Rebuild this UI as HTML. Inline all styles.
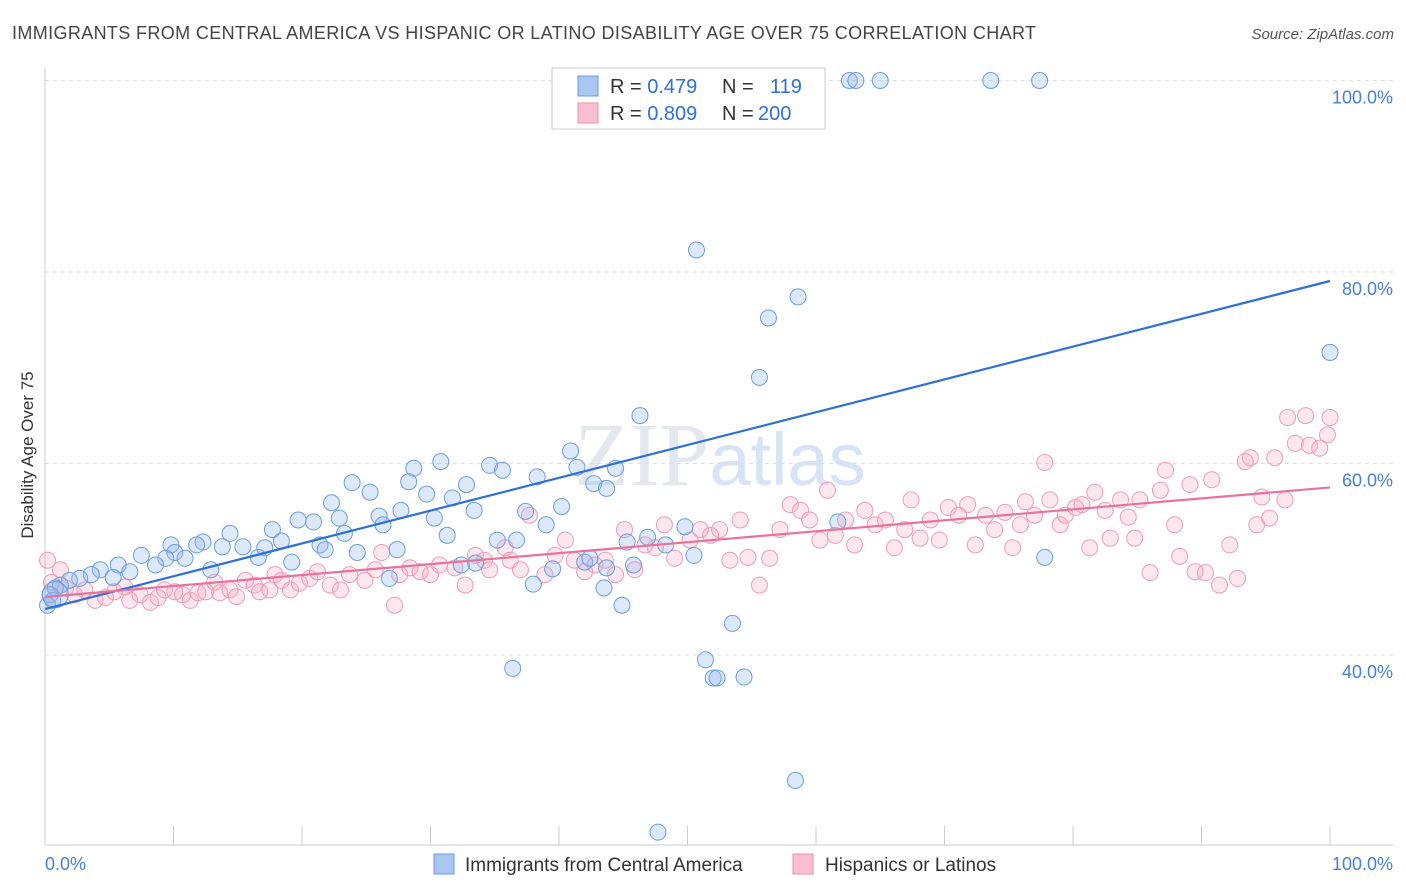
<!DOCTYPE html>
<html><head><meta charset="utf-8"><style>
body{margin:0;background:#fff;font-family:"Liberation Sans",sans-serif;}
#wrap{position:relative;width:1406px;height:892px;overflow:hidden;}
</style></head><body>
<div id="wrap">
<svg id="chart" width="1406" height="892" xmlns="http://www.w3.org/2000/svg">
<text x="12" y="39" font-size="18" fill="#444" textLength="1024" lengthAdjust="spacing">IMMIGRANTS FROM CENTRAL AMERICA VS HISPANIC OR LATINO DISABILITY AGE OVER 75 CORRELATION CHART</text>
<text x="1394" y="39" font-size="15" fill="#555" font-style="italic" text-anchor="end">Source: ZipAtlas.com</text>
<text x="720" y="485" font-size="90" fill="#e3e8ef" text-anchor="middle" font-family="Liberation Serif,serif">ZIP<tspan fill="#d8e4f5" font-family="Liberation Sans,sans-serif" font-size="74">atlas</tspan></text>
<text transform="translate(33,455) rotate(-90)" font-size="17" fill="#333" text-anchor="middle">Disability Age Over 75</text>
<g id="grid"></g><g id="pts"></g><g id="lines"></g>
<g>
<rect x="552" y="68" width="273" height="61" fill="#fff" stroke="#ccc"/>
<rect x="578" y="76" width="20" height="20" fill="#a9c7f0" stroke="#6a9ee0"/>
<rect x="578" y="103" width="20" height="20" fill="#f7bfd0" stroke="#ec90ac"/>
<text x="610" y="93" font-size="20" fill="#333">R = <tspan fill="#2f6fd8">0.479</tspan><tspan x="722">N = </tspan><tspan x="770" fill="#2f6fd8">119</tspan></text>
<text x="610" y="120" font-size="20" fill="#333">R = <tspan fill="#2f6fd8">0.809</tspan><tspan x="722">N = </tspan><tspan x="758" fill="#2f6fd8">200</tspan></text>
</g>
<g>
<rect x="434" y="854" width="20" height="20" fill="#a9c7f0" stroke="#6a9ee0"/>
<text x="465" y="871" font-size="19" fill="#333">Immigrants from Central America</text>
<rect x="793" y="854" width="20" height="20" fill="#f7bfd0" stroke="#ec90ac"/>
<text x="825" y="871" font-size="19" fill="#333">Hispanics or Latinos</text>
</g>
</svg>
<script>
const blueX=[59.7,62.6,63.1,65,73.6,77.4,50.7,58.6,56.3,55.6,100,46.3,40.9,41.4,44.4,42.7,43.7,30.8,28.7,34.6,35.6,32.8,28.3,29.7,23.9,25.3,22.3,27.7,31.7,38.3,40.2,37.4,39,30.3,26,22.9,19.7,20.9,17.7,14.4,23.3,26.3,31.3,33.4,35.2,36.7,18.4,15.4,17.1,21.4,21.8,19.2,16.6,13.8,12.3,11.8,9.8,10.1,10.9,9.4,7.5,8.6,5.7,6.6,4.3,5.3,3.6,2.7,1.9,1.2,0.8,0.4,0.6,0.2,12.9,24.3,27.4,26.8,33.5,32.4,39.5,38,42,42.4,43.7,45.8,46.9,45.3,49.8,50.5,48.3,43.5,44.9,53.5,51.4,52,52.3,54.4,36.4,58.4,47.7,61.7,77.8,0.8];
const blueY=[100,100,100,100,100,100,82.3,77.4,75.2,69.0,71.6,65.0,61.3,59.6,59.5,57.9,57.4,60.2,59.5,59.8,59.3,57.8,58.1,56.8,58.0,57.0,55.9,55.1,56.4,58.6,55.5,55.0,53.6,54.3,54.5,54.3,54.1,53.9,53.1,52.7,52.7,53.6,52.5,55.1,52.0,52.0,51.9,51.3,51.2,51.5,51.0,49.7,50.2,51.3,51.8,51.5,51.5,50.7,50.1,50.1,50.4,49.4,49.4,48.7,48.9,48.1,48.4,48.0,47.8,47.3,47.0,46.3,45.7,45.2,48.9,50.7,51.0,48.0,49.6,49.4,49.0,47.4,49.7,50.1,49.1,49.4,52.3,51.8,53.4,50.4,51.5,47.0,45.2,43.3,39.5,37.6,37.6,37.7,38.6,26.9,21.5,53.9,50.2,46.3];
const pinkX=[0.2,1.2,0.5,1.6,2.3,3.1,3.9,4.7,5.4,6.2,6.6,7.4,8.2,8.8,9.3,10.1,10.7,11.3,11.9,12.5,13.2,13.6,14.4,14.9,15.6,16.3,16.7,17.5,17.9,18.4,19.1,19.8,20.6,21.2,22.2,23.0,23.7,24.9,25.7,26.2,27.2,27.6,28.4,29.2,30.0,30.7,31.9,32.7,33.5,34.2,34.6,35.8,36.2,37.0,37.7,38.9,39.7,40.5,41.2,42.0,42.8,43.6,44.4,45.1,45.9,46.7,47.5,48.2,49.0,50.2,51.0,51.8,52.5,53.3,54.1,54.7,55.6,56.4,57.2,58.0,58.8,59.5,60.3,60.9,61.5,62.3,63.0,63.8,64.6,65.4,66.1,66.9,67.4,68.1,68.9,69.6,70.3,71.1,71.8,72.4,73.2,73.9,74.7,75.3,75.9,76.3,77.0,77.8,78.2,79.0,79.4,80.2,80.7,81.3,81.7,82.5,82.9,83.7,84.3,84.8,85.2,86.0,86.8,87.2,87.9,88.3,89.1,89.5,90.3,90.8,91.4,92.2,92.8,93.4,93.8,94.3,94.7,95.3,95.7,96.7,97.3,98.1,98.4,99.2,99.8,100,96.5];
const pinkY=[49.9,48.9,47.6,47.0,46.3,46.8,45.7,46.0,46.6,47.1,45.7,46.3,45.5,46.0,46.8,46.6,46.3,45.7,46.5,46.6,47.6,46.5,46.8,46.1,47.8,47.3,46.6,46.8,48.4,47.8,46.8,47.5,48.0,48.7,47.3,46.8,48.4,47.8,48.9,50.7,45.2,48.4,49.1,48.7,48.4,49.4,49.1,47.3,50.4,49.9,48.9,51.2,49.9,48.9,54.6,48.4,50.4,52.0,49.9,48.7,49.4,49.9,48.4,53.1,48.9,51.5,51.2,53.6,50.1,52.0,53.1,52.5,53.1,49.9,54.1,50.2,47.3,50.1,53.1,55.7,55.1,54.1,52.0,57.2,52.5,54.1,51.5,55.1,53.6,54.1,51.2,53.1,56.2,52.2,54.1,52.0,55.4,54.6,55.7,51.5,54.6,53.1,54.9,51.2,53.6,56.0,54.6,60.1,56.2,53.6,54.6,55.4,55.7,51.2,57.0,55.1,52.2,56.2,54.4,52.2,56.2,48.6,57.2,59.3,53.6,50.3,57.8,48.7,48.6,58.3,47.3,51.5,48.0,60.2,60.6,53.6,56.5,54.3,60.6,64.8,62.1,65.0,61.9,61.6,63.0,64.8,56.2];
const blueLine=[44.8,79.06];
const pinkLine=[46.06,57.5];
const yTicks=[40,60,80,100];
const yTickLabels=["40.0%","60.0%","80.0%","100.0%"];
const xTicks=[0,10,20,30,40,50,60,70,80,90,100];

const NS="http://www.w3.org/2000/svg";
const sx=v=>45+v*12.85;
const sy=v=>655-(v-40)*9.575;
function mk(tag,attrs,parent){const e=document.createElementNS(NS,tag);for(const k in attrs)e.setAttribute(k,attrs[k]);parent.appendChild(e);return e;}
const grid=document.getElementById('grid');
yTicks.forEach((t,i)=>{
  const l=mk('line',{x1:45,x2:1393,y1:sy(t),y2:sy(t),stroke:'#ddd','stroke-dasharray':'4,4'},grid);
  
  
  const tx=mk('text',{x:1393,y:sy(t)+23,'font-size':18,fill:'#4a7fd6','text-anchor':'end'},grid);
  tx.textContent=yTickLabels[i];
  
  
});
const ax=mk('line',{x1:45,x2:1393,y1:845,y2:845,stroke:'#ccc'},grid);


const ay=mk('line',{x1:45,x2:45,y1:68,y2:845,stroke:'#ccc'},grid);


xTicks.forEach(t=>{
  const l=mk('line',{x1:sx(t),x2:sx(t),y1:826,y2:845,stroke:'#ccc'},grid);
  
  
});
const x0=mk('text',{x:45,y:870,'font-size':18,fill:'#4a7fd6'},grid);x0.textContent='0.0%';


const x1=mk('text',{x:1393,y:870,'font-size':18,fill:'#4a7fd6','text-anchor':'end'},grid);x1.textContent='100.0%';


const pts=document.getElementById('pts');
pinkX.forEach((x,i)=>{
  const c=mk('circle',{cx:sx(x),cy:sy(pinkY[i]),r:8,fill:'rgba(245,170,195,0.28)',stroke:'#ef9cb6','stroke-width':1},pts);
  
  
});
blueX.forEach((x,i)=>{
  const big=i===blueX.length-1;
  const c=mk('circle',{cx:sx(x),cy:sy(blueY[i]),r:big?13:8,fill:'rgba(150,185,235,0.32)',stroke:'#6b9ee2','stroke-width':1},pts);
  
  
});
const lines=document.getElementById('lines');
const bl=mk('line',{x1:sx(0),y1:sy(blueLine[0]),x2:sx(100),y2:sy(blueLine[1]),stroke:'#2f6fd8','stroke-width':2.2},lines);


const pl=mk('line',{x1:sx(0),y1:sy(pinkLine[0]),x2:sx(100),y2:sy(pinkLine[1]),stroke:'#e8739a','stroke-width':2.2},lines);


</script>
</div>
</body></html>
